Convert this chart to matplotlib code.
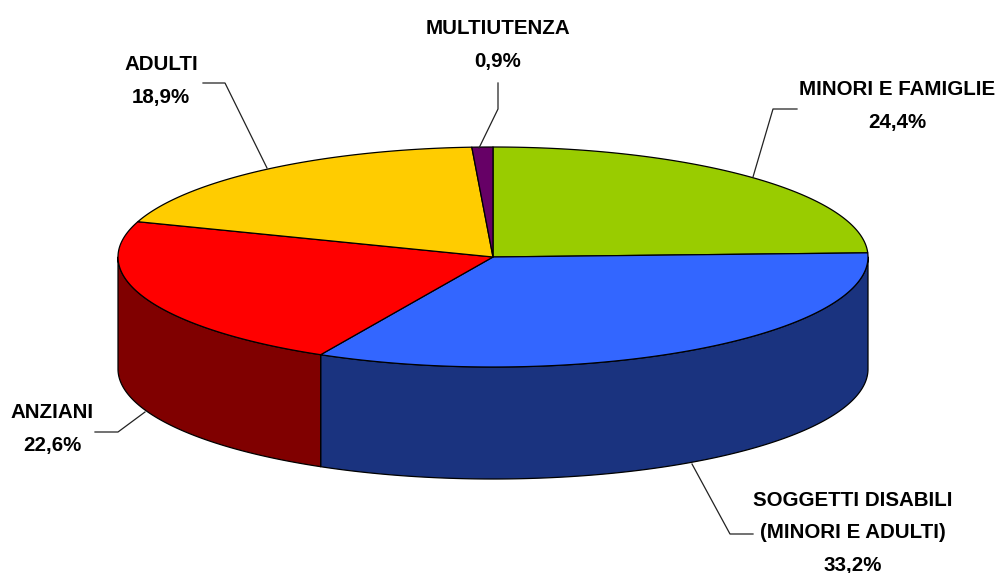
#!/usr/bin/env python3
"""
plot.py - 3d looking pie chart, drawn by hand because matplotlib has no such pie
"""
import numpy as np
import matplotlib
matplotlib.use('Agg')
import matplotlib.pyplot as plt

categories = ['MINORI E FAMIGLIE', 'SOGGETTI DISABILI\n(MINORI E ADULTI)', 'ANZIANI', 'ADULTI', 'MULTIUTENZA']
values = [24.4, 33.2, 22.6, 18.9, 0.9]
value_labels = ['24,4%', '33,2%', '22,6%', '18,9%', '0,9%']
top_colors = ['#99CC00', '#3366FF', '#FF0000', '#FFCC00', '#660066']
side_colors = ['#4D6600', '#1A337F', '#800000', '#806600', '#330033']

W, H = 998, 573
CX, CY = 493, 257     # centre of the top ellipse, pixels
RX, RY = 375, 110
DEPTH = 112

# where each label and its leader go, pixels
label_pos = [(897, 106), (853, 533), (52, 429), (161, 81), (498, 45)]
leaders = [[(753, 177), (773, 109), (797, 109)],
           [(692, 464), (730, 534), (753, 534)],
           [(145, 412), (118, 432), (95, 432)],
           [(267, 168), (225, 83), (203, 83)],
           [(479, 148), (498, 109), (498, 83)]]


def ellipsePoints(a0, a1, yoff=0):
    # angles in radians, clockwise from the top of the ellipse
    t = np.linspace(a0, a1, max(2, int(abs(a1 - a0) * 120)))
    return CX + RX * np.sin(t), CY + yoff - RY * np.cos(t)


plt.rcParams['font.family'] = ['Liberation Sans', 'DejaVu Sans']
fig = plt.figure(figsize=(W / 100, H / 100), dpi=100)
ax = fig.add_axes([0, 0, 1, 1])
ax.set_xlim(0, W)
ax.set_ylim(H, 0)
ax.axis('off')

fractions = np.array(values) / sum(values)
edges = np.concatenate([[0], np.cumsum(fractions)]) * 2 * np.pi

# side wall, only the front half of the ellipse can be seen
for i in range(len(values)):
    a0 = max(edges[i], np.pi / 2)
    a1 = min(edges[i + 1], 3 * np.pi / 2)
    if a1 <= a0:
        continue
    x, y = ellipsePoints(a0, a1)
    xb, yb = ellipsePoints(a1, a0, DEPTH)
    ax.fill(np.r_[x, xb], np.r_[y, yb], facecolor=side_colors[i], edgecolor='black',
            linewidth=0.9, joinstyle='round', zorder=2)

# top face
for i in range(len(values)):
    x, y = ellipsePoints(edges[i], edges[i + 1])
    ax.fill(np.r_[CX, x], np.r_[CY, y], facecolor=top_colors[i], edgecolor='black',
            linewidth=0.9, joinstyle='round', zorder=3)

for i in range(len(values)):
    px, py = zip(*leaders[i])
    ax.plot(px, py, color='#222222', linewidth=0.9, zorder=4)
    ax.text(label_pos[i][0], label_pos[i][1], categories[i] + '\n' + value_labels[i],
            ha='center', va='center', fontsize=14.8, fontweight='bold', color='black',
            linespacing=1.9, zorder=5)

fig.savefig('out.png', dpi=100)
plt.close('all')
